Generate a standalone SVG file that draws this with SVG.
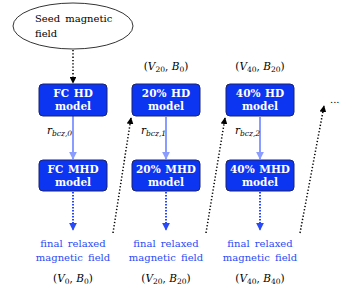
<svg xmlns="http://www.w3.org/2000/svg" width="348" height="290" viewBox="0 0 348 290">
<style>
text{font-family:'DejaVu Serif','Liberation Serif',serif}
.box{fill:#0b35f0;stroke:#1a2370;stroke-width:1}
.bt{font-weight:bold;font-size:10.5px;fill:#fff;text-anchor:middle;word-spacing:1px}
.t{font-size:10px;fill:#000;word-spacing:2px}
.m{font-size:10.5px;fill:#000;text-anchor:middle}
.i{font-style:italic}
.s{font-size:7.5px}
.bl{font-size:10px;fill:#2a4af5;text-anchor:middle;word-spacing:2px}
.solid{stroke:#8a9cff;stroke-width:2;fill:none}
.bdot{stroke:#2a4af5;stroke-width:2;stroke-dasharray:1.5 1.5;fill:none}
.kdot{stroke:#000;stroke-width:1.5;stroke-dasharray:1.3 2;fill:none}
.r{font-size:10.5px;font-style:italic;fill:#000}
</style>
<defs>
<marker id="ak" viewBox="0 0 10 10" refX="9" refY="5" markerWidth="4.5" markerHeight="4.5" orient="auto"><path d="M0,0 L10,5 L0,10 z" fill="#000"/></marker>
<marker id="ab" viewBox="0 0 10 10" refX="9" refY="5" markerWidth="4" markerHeight="4" orient="auto"><path d="M0,0 L10,5 L0,10 z" fill="#2a4af5"/></marker>
<marker id="al" viewBox="0 0 10 10" refX="9" refY="5" markerWidth="4" markerHeight="4" orient="auto"><path d="M0,0 L10,5 L0,10 z" fill="#8a9cff"/></marker>
</defs>
<g id="connectors">
<line class="kdot" x1="73" y1="50" x2="73" y2="83" marker-end="url(#ak)"/>
<line class="solid" x1="73" y1="116" x2="73" y2="159" marker-end="url(#al)"/>
<line class="solid" x1="166" y1="117" x2="166" y2="159" marker-end="url(#al)"/>
<line class="solid" x1="260" y1="117" x2="260" y2="159" marker-end="url(#al)"/>
<line class="bdot" x1="73" y1="192" x2="73" y2="230" marker-end="url(#ab)"/>
<line class="bdot" x1="166" y1="192" x2="166" y2="230" marker-end="url(#ab)"/>
<line class="bdot" x1="260" y1="192" x2="260" y2="230" marker-end="url(#ab)"/>
<line class="kdot" x1="113" y1="233" x2="131" y2="118" marker-end="url(#ak)"/>
<line class="kdot" x1="206" y1="233" x2="225" y2="118" marker-end="url(#ak)"/>
<line class="kdot" x1="300" y1="233" x2="324" y2="106" marker-end="url(#ak)"/>
<text class="r" x="47" y="134">r<tspan class="s" dy="2">bcz,0</tspan></text>
<text class="r" x="141" y="134">r<tspan class="s" dy="2">bcz,1</tspan></text>
<text class="r" x="235" y="134">r<tspan class="s" dy="2">bcz,2</tspan></text>
</g>
<g id="seed">
<ellipse cx="73" cy="26" rx="60" ry="23" fill="#fff" stroke="#000" stroke-width="0.8"/>
<text class="t" x="35" y="22">Seed magnetic</text>
<text class="t" x="35" y="37">field</text>
</g>
<g id="fc-hd"><rect class="box" x="39" y="84" width="68" height="32" rx="4"/><text class="bt" x="73" y="97">FC HD</text><text class="bt" x="73" y="110">model</text></g>
<g id="p20-hd"><rect class="box" x="132" y="84" width="68" height="32" rx="4"/><text class="bt" x="166" y="97">20% HD</text><text class="bt" x="166" y="110">model</text></g>
<g id="p40-hd"><rect class="box" x="226" y="84" width="68" height="32" rx="4"/><text class="bt" x="260" y="97">40% HD</text><text class="bt" x="260" y="110">model</text></g>
<g id="fc-mhd"><rect class="box" x="39" y="160" width="68" height="31" rx="4"/><text class="bt" x="73" y="173">FC MHD</text><text class="bt" x="73" y="186">model</text></g>
<g id="p20-mhd"><rect class="box" x="132" y="160" width="68" height="31" rx="4"/><text class="bt" x="166" y="173">20% MHD</text><text class="bt" x="166" y="186">model</text></g>
<g id="p40-mhd"><rect class="box" x="226" y="160" width="68" height="31" rx="4"/><text class="bt" x="260" y="173">40% MHD</text><text class="bt" x="260" y="186">model</text></g>
<g id="top-labels">
<text class="m" x="166" y="70">(<tspan class="i">V</tspan><tspan class="s" dy="2">20</tspan><tspan dy="-2">, </tspan><tspan class="i">B</tspan><tspan class="s" dy="2">0</tspan><tspan dy="-2">)</tspan></text>
<text class="m" x="260" y="70">(<tspan class="i">V</tspan><tspan class="s" dy="2">40</tspan><tspan dy="-2">, </tspan><tspan class="i">B</tspan><tspan class="s" dy="2">20</tspan><tspan dy="-2">)</tspan></text>
<text class="t" x="330" y="103">...</text>
</g>
<g id="out0"><text class="bl" x="73" y="247">final relaxed</text><text class="bl" x="73" y="261">magnetic field</text>
<text class="m" x="73" y="282">(<tspan class="i">V</tspan><tspan class="s" dy="2">0</tspan><tspan dy="-2">, </tspan><tspan class="i">B</tspan><tspan class="s" dy="2">0</tspan><tspan dy="-2">)</tspan></text></g>
<g id="out20"><text class="bl" x="166" y="247">final relaxed</text><text class="bl" x="166" y="261">magnetic field</text>
<text class="m" x="166" y="282">(<tspan class="i">V</tspan><tspan class="s" dy="2">20</tspan><tspan dy="-2">, </tspan><tspan class="i">B</tspan><tspan class="s" dy="2">20</tspan><tspan dy="-2">)</tspan></text></g>
<g id="out40"><text class="bl" x="260" y="247">final relaxed</text><text class="bl" x="260" y="261">magnetic field</text>
<text class="m" x="260" y="282">(<tspan class="i">V</tspan><tspan class="s" dy="2">40</tspan><tspan dy="-2">, </tspan><tspan class="i">B</tspan><tspan class="s" dy="2">40</tspan><tspan dy="-2">)</tspan></text></g>
</svg>
